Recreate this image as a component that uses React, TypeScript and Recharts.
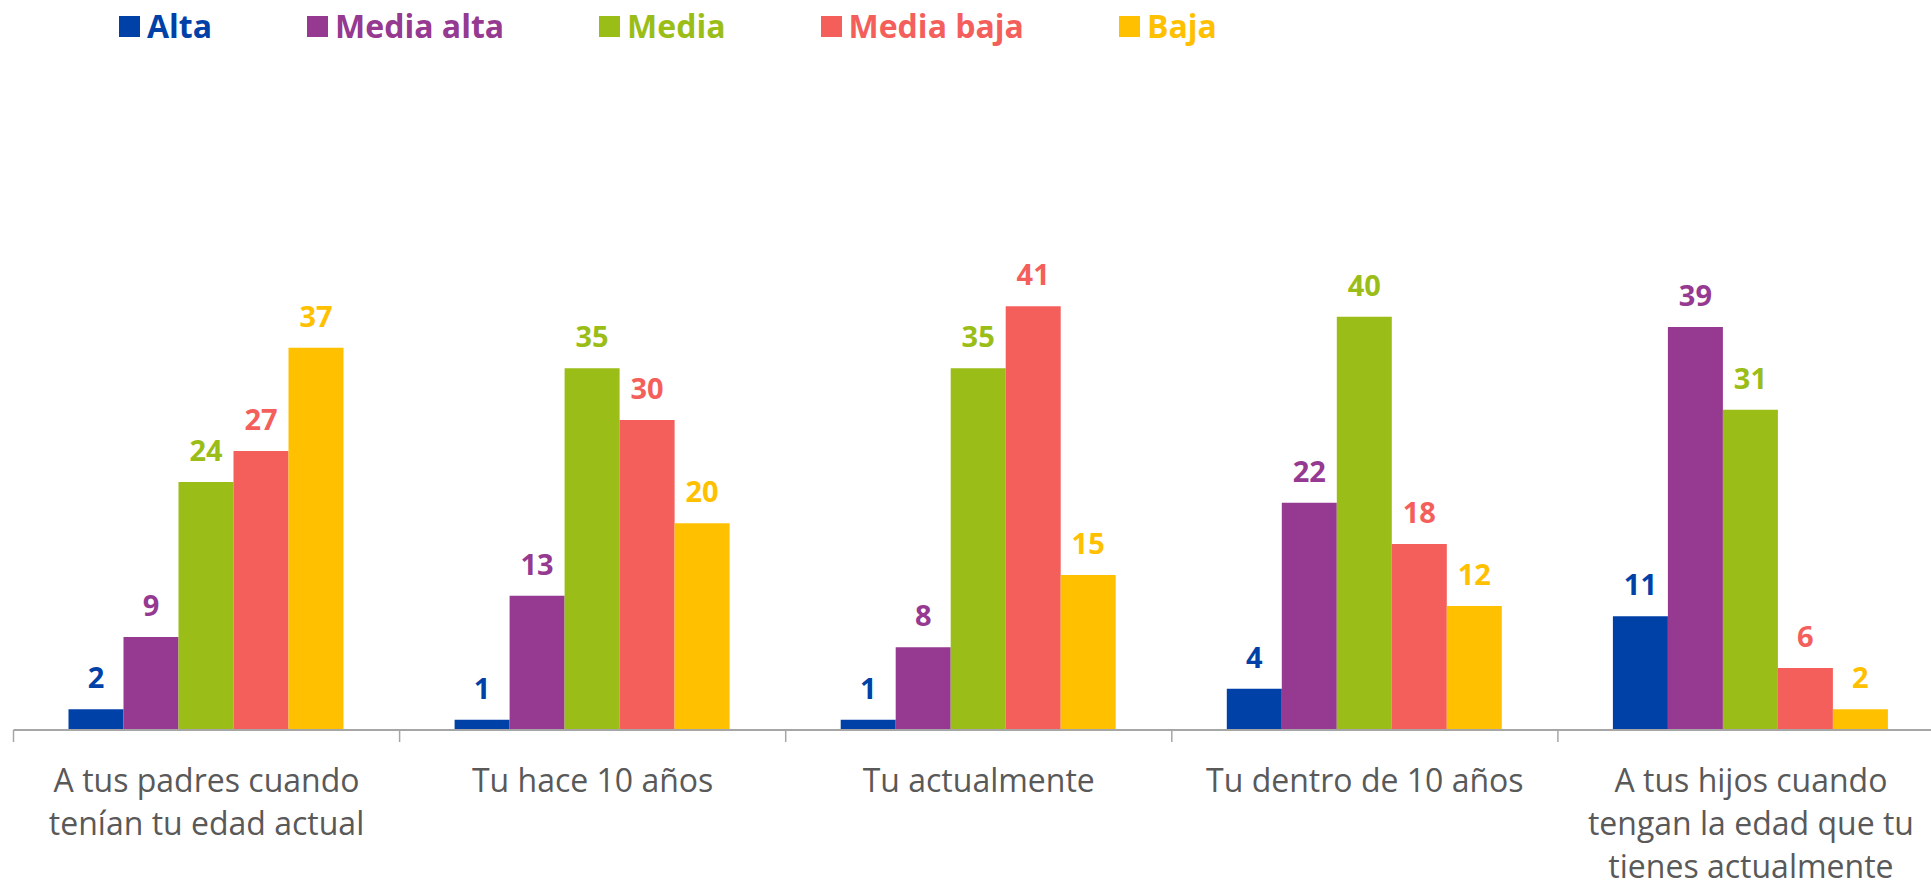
import React from "react";
import { BarChart, Bar, XAxis, YAxis, LabelList } from "recharts";

const categoryLines = [
  ["A tus padres cuando", "tenían tu edad actual"],
  ["Tu hace 10 años"],
  ["Tu actualmente"],
  ["Tu dentro de 10 años"],
  ["A tus hijos cuando", "tengan la edad que tu", "tienes actualmente"],
];
const categories = categoryLines.map((l) => l.join(" "));

const alta = [2, 1, 1, 4, 11];
const mediaAlta = [9, 13, 8, 22, 39];
const media = [24, 35, 35, 40, 31];
const mediaBaja = [27, 30, 41, 18, 6];
const baja = [37, 20, 15, 12, 2];

const series = [
  { key: "alta", name: "Alta", color: "#0041A8", values: alta },
  { key: "mediaAlta", name: "Media alta", color: "#953991", values: mediaAlta },
  { key: "media", name: "Media", color: "#9BBD17", values: media },
  { key: "mediaBaja", name: "Media baja", color: "#F45F5C", values: mediaBaja },
  { key: "baja", name: "Baja", color: "#FFC000", values: baja },
];

const data = categories.map((name, i) => {
  const row: Record<string, string | number> = { name };
  series.forEach((s) => {
    row[s.key] = s.values[i];
  });
  return row;
});

const FONT = "'Open Sans', 'Noto Sans', sans-serif";
const CHART_W = 1944;
const CHART_H = 887;
const LEFT = 13.5;
const PLOT_W = CHART_W - LEFT;
const BAND = PLOT_W / categories.length;

function CategoryTick(props: any) {
  const { x, y, payload } = props;
  const lines = categoryLines[payload.index] || [payload.value];
  return (
    <g>
      <line x1={x - BAND / 2} x2={x - BAND / 2} y1={y} y2={y + 12} stroke="#A6A6A6" strokeWidth={1.5} />
      {lines.map((t, i) => (
        <text
          key={i}
          x={x}
          y={y + 62 + i * 43}
          textAnchor="middle"
          fill="#595959"
          fontSize={32}
          fontFamily={FONT}
        >
          {t}
        </text>
      ))}
    </g>
  );
}

function Legend() {
  return (
    <div
      style={{
        position: "absolute",
        top: 6,
        left: 119,
        display: "flex",
        alignItems: "center",
        gap: 95,
        fontFamily: FONT,
        fontWeight: 700,
        fontSize: 32,
        lineHeight: "40px",
      }}
    >
      {series.map((s) => (
        <div key={s.key} style={{ display: "flex", alignItems: "center", gap: 7, color: s.color }}>
          <span style={{ width: 21, height: 21, background: s.color, display: "inline-block" }} />
          <span>{s.name}</span>
        </div>
      ))}
    </div>
  );
}

export default function App() {
  return (
    <div
      style={{
        position: "fixed",
        left: 0,
        top: 0,
        width: 1931,
        height: 887,
        overflow: "hidden",
        background: "#fff",
      }}
    >
      <Legend />
      <BarChart
        width={CHART_W}
        height={CHART_H}
        data={data}
        margin={{ top: 265, right: 0, left: LEFT, bottom: 0 }}
        barCategoryGap={55}
        barGap={0}
      >
        <XAxis
          dataKey="name"
          height={157}
          tickSize={0}
          tickMargin={0}
          tickLine={false}
          axisLine={{ stroke: "#A6A6A6", strokeWidth: 2 }}
          tick={<CategoryTick />}
          interval={0}
        />
        <YAxis hide domain={[0, 45]} />
        {series.map((s) => (
          <Bar key={s.key} dataKey={s.key} name={s.name} fill={s.color} isAnimationActive={false}>
            <LabelList
              dataKey={s.key}
              position="top"
              offset={21}
              fill={s.color}
              fontSize={29}
              fontWeight={700}
              fontFamily={FONT}
            />
          </Bar>
        ))}
      </BarChart>
    </div>
  );
}
